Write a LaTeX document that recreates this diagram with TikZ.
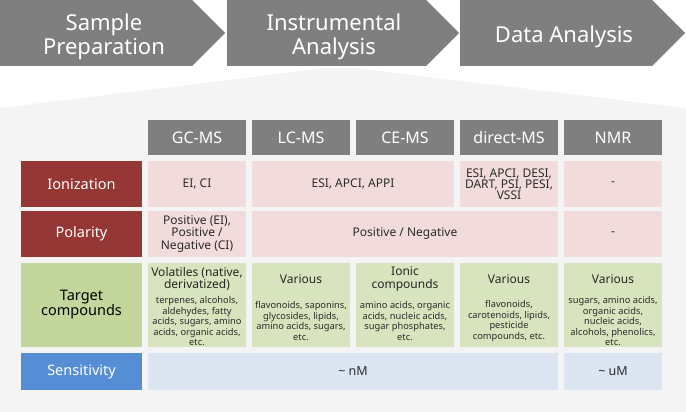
\documentclass[tikz,border=0pt]{standalone}
\usepackage{fontspec}
\setmainfont{Noto Sans}
\usetikzlibrary{positioning}

\definecolor{stepgray}{HTML}{7F7F7F}
\definecolor{panelgray}{HTML}{F4F4F4}
\definecolor{rowred}{HTML}{953735}
\definecolor{cellpink}{HTML}{F2DCDB}
\definecolor{rowgreen}{HTML}{C3D69B}
\definecolor{cellgreen}{HTML}{D7E4BD}
\definecolor{rowblue}{HTML}{558ED5}
\definecolor{cellblue}{HTML}{DCE6F2}
\definecolor{celltext}{HTML}{2B2B2B}

\tikzset{
  steptext/.style={text=white, align=center, font=\fontsize{22}{23.5}\selectfont},
  colhead/.style={fill=stepgray, text=white, minimum width=98pt, minimum height=35pt,
    inner sep=0pt, font=\fontsize{16}{18}\selectfont},
  rowlab/.style={minimum width=121pt, inner sep=0pt, text=white, align=center,
    font=\fontsize{14.5}{16}\selectfont},
  cell/.style={inner sep=0pt, text=celltext, align=center, minimum width=98pt,
    font=\fontsize{12}{12.3}\selectfont},
  pinkcell/.style={cell, fill=cellpink, minimum height=46pt},
  greencell/.style={cell, fill=cellgreen, minimum height=84pt},
  bluecell/.style={cell, fill=cellblue, minimum height=37pt},
  cmptitle/.style={inner sep=0pt, align=center, text=black!85, font=\fontsize{12}{12.3}\selectfont},
  cmplist/.style={inner sep=0pt, align=center, text=celltext, font=\fontsize{9.3}{10.5}\selectfont},
}

\begin{document}
\begin{tikzpicture}[x=1pt, y=-1pt]
  \useasboundingbox (0,0) rectangle (686,412);

  % panel below the steps
  \fill[panelgray] (0,108) -- (326,68) -- (354,68) -- (686,108) -- (686,412) -- (0,412) -- cycle;

  % workflow steps
  \foreach \xa/\xb in {0/192, 227/426, 460/652}
    \fill[stepgray] (\xa,0) -- (\xb,0) -- ({\xb+33},33) -- (\xb,66) -- (\xa,66) -- cycle;

  \node[steptext] (prep) at (104,37) {Sample\\Preparation};
  \node[steptext] (instr) at (334,37) {Instrumental\\Analysis};
  \node[steptext] (data) at (564,37) {Data Analysis};

  % column heads
  \foreach \name/\lbl [count=\i from 0] in {gc/GC-MS, lc/LC-MS, ce/CE-MS, dms/direct-MS, nmr/NMR}
    \node[colhead] (\name) at ({197+104*\i},137.5) {\lbl};

  % row labels
  \node[rowlab, fill=rowred, minimum height=46pt] (ion) at (81.5,184) {Ionization};
  \node[rowlab, fill=rowred, minimum height=46pt] (pol) at (81.5,234) {Polarity};
  \node[rowlab, fill=rowgreen, minimum height=84pt, text=black,
    font=\bfseries\fontsize{14.5}{15}\selectfont] (tgt) at (81.5,305) {Target\\compounds};
  \node[rowlab, fill=rowblue, minimum height=37pt] (sens) at (81.5,371.5) {Sensitivity};

  % ionization
  \node[pinkcell] (ion-gc) at (197,184) {EI, CI};
  \node[pinkcell, minimum width=202pt] (ion-lcce) at (353,184) {ESI, APCI, APPI};
  \node[pinkcell, font=\fontsize{12}{11}\selectfont] (ion-dms) at (509,184) {ESI, APCI, DESI,\\DART, PSI, PESI,\\VSSI};
  \node[pinkcell] (ion-nmr) at (613,184) {-};

  % polarity
  \node[pinkcell] (pol-gc) at (197,234) {Positive (EI),\\Positive /\\Negative (CI)};
  \node[pinkcell, minimum width=306pt] (pol-ms) at (405,234) {Positive / Negative};
  \node[pinkcell] (pol-nmr) at (613,234) {-};

  % target compounds
  \foreach \name [count=\i from 0] in {gc, lc, ce, dms, nmr}
    \node[greencell] (tgt-\name) at ({197+104*\i},305) {};

  \node[cmptitle] (tgt-gc-t) at (197,279) {Volatiles (native,\\derivatized)};
  \node[cmplist] (tgt-gc-l) at (197,321.5) {terpenes, alcohols,\\aldehydes, fatty\\acids, sugars, amino\\acids, organic acids,\\etc.};
  \node[cmptitle] (tgt-lc-t) at (301,279) {Various};
  \node[cmplist] (tgt-lc-l) at (301,321) {flavonoids, saponins,\\glycosides, lipids,\\amino acids, sugars,\\etc.};
  \node[cmptitle] (tgt-ce-t) at (405,279) {Ionic\\compounds};
  \node[cmplist] (tgt-ce-l) at (405,321) {amino acids, organic\\acids, nucleic acids,\\sugar phosphates,\\etc.};
  \node[cmptitle] (tgt-dms-t) at (509,279) {Various};
  \node[cmplist] (tgt-dms-l) at (509,321) {flavonoids,\\carotenoids, lipids,\\pesticide\\compounds, etc.};
  \node[cmptitle] (tgt-nmr-t) at (613,279) {Various};
  \node[cmplist] (tgt-nmr-l) at (613,321.5) {sugars, amino acids,\\organic acids,\\nucleic acids,\\alcohols, phenolics,\\etc.};

  % sensitivity
  \node[bluecell, minimum width=410pt, font=\fontsize{12.5}{13}\selectfont] (sens-ms) at (353,371.5) {\textasciitilde{} nM};
  \node[bluecell, font=\fontsize{12.5}{13}\selectfont] (sens-nmr) at (613,371.5) {\textasciitilde{} uM};

\end{tikzpicture}
\end{document}
